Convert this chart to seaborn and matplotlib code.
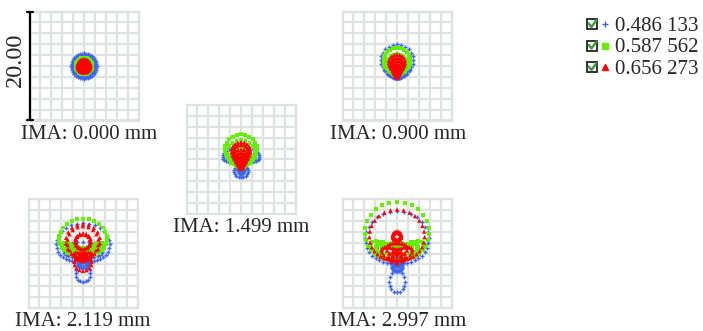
import numpy as np
import pandas as pd
import matplotlib
matplotlib.use("Agg")
import matplotlib.pyplot as plt
import seaborn as sns
from matplotlib.patches import Rectangle

sns.set_theme(style="white")
plt.rcParams["font.family"] = ["Liberation Serif", "DejaVu Serif"]

W, H = 703, 331

wavelengths = ["0.486 133", "0.587 562", "0.656 273"]
colors = ["#3f66ee", "#66ee00", "#ff0000"]
markers = ["+", "s", "^"]
field_labels = ["IMA: 0.000 mm", "IMA: 0.900 mm", "IMA: 1.499 mm",
                "IMA: 2.119 mm", "IMA: 2.997 mm"]

# Ray-fan description of each spot, in micrometres.
# Every field holds one row per wavelength (blue, green, red) and one value per
# hexapolar pupil ring (inner -> outer): ring centre height, x / y blur and coma.
f1_center = [[0] * 6, [0] * 6, [0] * 6]
f1_ax = [[0.4, 0.8, 1.2, 1.6, 2.0, 2.3], [0.27, 0.55, 0.8, 1.05, 1.3, 1.55], [0.2, 0.4, 0.6, 0.8, 1.0, 1.2]]
f1_ay = [[0.4, 0.8, 1.2, 1.6, 2.0, 2.3], [0.27, 0.55, 0.8, 1.05, 1.3, 1.55], [0.2, 0.4, 0.6, 0.8, 1.0, 1.2]]
f1_coma = [[0] * 6, [0] * 6, [0] * 6]

f2_center = [[-1.8, -1.7, -1.5, -1.3, -0.6, 0.5],
             [-1.44, -1.28, -1.0, -0.62, -0.12, 0.5],
             [-1.93, -1.72, -1.36, -0.88, -0.24, 0.54]]
f2_ax = [[0.3, 0.6, 0.9, 1.2, 2.0, 2.3], [0.3, 0.6, 0.9, 1.2, 1.55, 1.85], [0.15, 0.2, 0.25, 0.3, 0.3, 0.3]]
f2_ay = [[0.3, 0.6, 0.9, 1.2, 2.0, 2.3], [0.3, 0.6, 0.9, 1.2, 1.55, 1.85], [0.15, 0.2, 0.25, 0.3, 0.3, 0.3]]
f2_coma = [[0.02, 0.08, 0.2, 0.35, 0.6, 1.15],
           [0.03, 0.11, 0.25, 0.44, 0.69, 1.0],
           [0.035, 0.14, 0.32, 0.56, 0.88, 1.27]]

f3_center = [[-0.66, -0.9, -1.4, 0.0, -2.2, 0.6],
             [-1.1, -0.9, -0.5, 0.0, 0.6, 1.2],
             [-1.61, -1.36, -0.92, -0.32, 0.46, 1.4]]
f3_ax = [[0.2, 0.4, 0.6, 2.3, 0.6, 3.1], [0.35, 0.7, 1.1, 1.5, 2.0, 2.2], [0.15, 0.2, 0.25, 0.3, 0.3, 0.25]]
f3_ay = [[0.2, 0.3, 0.4, 0.8, 0.3, 1.2], [0.35, 0.7, 1.1, 1.5, 2.0, 2.2], [0.15, 0.2, 0.25, 0.3, 0.3, 0.25]]
f3_coma = [[-0.03, -0.15, -0.4, 0.3, -0.8, 0.7],
           [0.04, 0.15, 0.35, 0.6, 1.0, 1.2],
           [0.043, 0.17, 0.39, 0.69, 1.08, 1.55]]

f4_center = [[-0.3, -0.6, -1.2, 0.4, -2.85, 1.2],
             [0.0, 0.1, 0.3, 0.7, 1.0, 2.35],
             [-0.1, -0.5, -0.3, -1.5, 2.2, 2.2]]
f4_ax = [[0.25, 0.5, 0.8, 3.4, 0.3, 4.6], [0.5, 1.2, 2.0, 2.8, 3.6, 3.9], [0.4, 0.6, 1.5, 1.0, 0.1, 0.2]]
f4_ay = [[0.25, 0.4, 0.6, 1.5, 1.3, 3.5], [0.2, 0.3, 0.5, 0.7, 0.8, 2.9], [0.3, 0.5, 0.6, 0.9, 0.1, 0.2]]
f4_coma = [[0.05, -0.2, -0.5, 0.3, -1.1, 0.9],
           [0.0, -0.2, -0.4, -0.6, -0.8, 1.15],
           [-0.1, -0.3, -0.4, -0.8, 1.4, 3.0]]

f5_center = [[-0.2, -0.5, -1.0, -2.2, -3.95, 2.0],
             [0.1, 1.4, 0.7, 0.9, 1.2, 2.8],
             [-0.5, -0.4, 1.0, 0.4, 3.2, 2.3]]
f5_ax = [[0.3, 0.6, 1.0, 0.5, 0.3, 5.5], [0.6, 1.3, 2.6, 3.6, 4.6, 5.3], [0.7, 1.3, 1.8, 2.6, 0.1, 4.6]]
f5_ay = [[0.3, 0.4, 0.6, 0.6, 2.0, 4.8], [0.3, 0.5, 0.8, 1.0, 1.1, 5.3], [0.7, 1.0, 1.2, 1.0, 0.1, 4.6]]
f5_coma = [[-0.05, -0.2, -0.4, -0.6, -1.2, 1.0],
           [0.0, 0.3, -0.5, -0.7, -0.9, 1.4],
           [-0.3, -0.4, -0.3, -0.6, 0.75, 1.15]]

fields = [
    (f1_center, f1_ax, f1_ay, f1_coma),
    (f2_center, f2_ax, f2_ay, f2_coma),
    (f3_center, f3_ax, f3_ay, f3_coma),
    (f4_center, f4_ax, f4_ay, f4_coma),
    (f5_center, f5_ax, f5_ay, f5_coma),
]


def trace_spot(center, ax_, ay_, coma):
    """Image-plane hits of a hexapolar ray set (ring k carries 6k rays)."""
    xs, ys = [], []
    for k in range(len(center)):
        n = 6 * (k + 1)
        th = 2 * np.pi * np.arange(n) / n
        xs.append(ax_[k] * np.sin(th) + coma[k] * np.sin(2 * th))
        ys.append(center[k] + ay_[k] * np.cos(th) + coma[k] * np.cos(2 * th))
    return pd.DataFrame({"x": np.concatenate(xs), "y": np.concatenate(ys)})


GRID = "#dde3e3"
BOX = 109
boxes = [(29.5, 11.5), (342.5, 11.5), (186.5, 105), (28.5, 199), (342.5, 199)]
label_x = [89, 398, 241, 83, 398]

fig = plt.figure(figsize=(W / 100, H / 100), dpi=100)
fig.patch.set_facecolor("white")

marker_kw = [
    dict(marker="+", s=8, linewidth=1.0),
    dict(marker="s", s=8, linewidth=0, edgecolor="none"),
    dict(marker="^", s=10, linewidth=0, edgecolor="none"),
]

for (left, top), spec in zip(boxes, fields):
    ax = fig.add_axes([left / W, 1 - (top + BOX) / H, BOX / W, BOX / H])
    ax.set_xlim(-10, 10)
    ax.set_ylim(-10, 10)
    ticks = np.arange(-10, 11, 2)
    ax.set_xticks(ticks)
    ax.set_yticks(ticks)
    ax.grid(True, color=GRID, linewidth=1.6)
    ax.tick_params(length=0, labelbottom=False, labelleft=False)
    for sp in ax.spines.values():
        sp.set_color(GRID)
        sp.set_linewidth(1.6)
    center, axx, ayy, coma = spec
    for w in range(3):
        df = trace_spot(center[w], axx[w], ayy[w], coma[w])
        sns.scatterplot(data=df, x="x", y="y", color=colors[w], ax=ax,
                        legend=False, zorder=3 + w, **marker_kw[w])
    ax.set_xlabel("")
    ax.set_ylabel("")

# overlay in pixel coordinates for scale bar, labels and key
ov = fig.add_axes([0, 0, 1, 1])
ov.set_xlim(0, W)
ov.set_ylim(H, 0)
ov.axis("off")

ov.plot([30, 30], [12, 120], color="black", lw=1.6, solid_capstyle="butt")
ov.plot([27, 33], [12, 12], color="black", lw=1.6)
ov.plot([27, 33], [120, 120], color="black", lw=1.6)
ov.text(15.5, 59.5, "20.00", rotation=90, ha="center", va="center", fontsize=17.5)

for (left, top), lx, lab in zip(boxes, label_x, field_labels):
    ov.text(lx, top + BOX + 18.5, lab, ha="center", va="baseline", fontsize=15)

rows = [24, 45.5, 67]
key_ms = [5, 3.8, 4.2]
for y, c, m, wl, ms in zip(rows, colors, markers, wavelengths, key_ms):
    ov.add_patch(Rectangle((587, y - 5), 10, 10, fill=False, ec="#222222", lw=1.3))
    ov.plot([588.8, 591.5, 596.5], [y - 0.5, y + 3, y - 4], color="#3b9a3b", lw=1.7,
            solid_capstyle="round")
    ov.plot([605], [y], marker=m, color=c, ms=ms, mew=1.0, linestyle="none")
    ov.text(615, y + 7, wl, ha="left", va="baseline", fontsize=15)

fig.savefig("out.png", dpi=100, facecolor="white")
